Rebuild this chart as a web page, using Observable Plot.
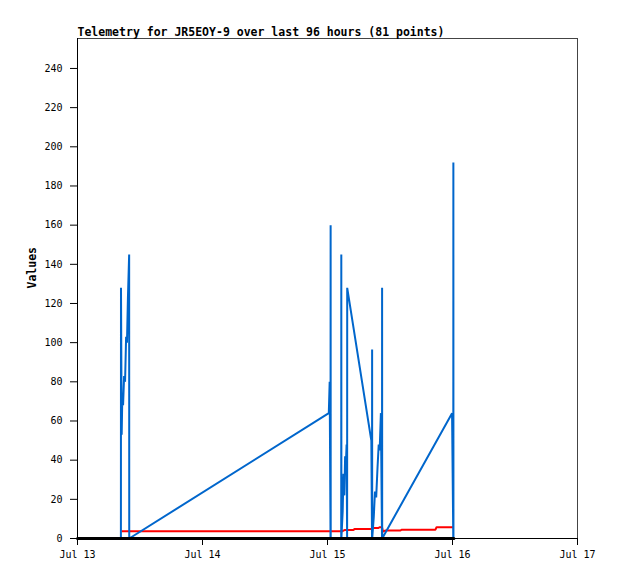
<!DOCTYPE html>
<html>
<head>
<meta charset="utf-8">
<script src="https://cdn.jsdelivr.net/npm/d3@7"></script>
<script src="https://cdn.jsdelivr.net/npm/@observablehq/plot@0.6"></script>
<style>
  html, body { margin: 0; padding: 0; background: #fff; }
</style>
</head>
<body>
<div id="chart"></div>
<script>
const titleText = "Telemetry for JR5EOY-9 over last 96 hours (81 points)";
const yLabel = "Values";
const xDomain = ["2024-07-13T00:00Z", "2024-07-17T00:00Z"];
const yTicks = [0, 20, 40, 60, 80, 100, 120, 140, 160, 180, 200, 220, 240];
const yMax = 255.3;

const blueTimes = [
  "2024-07-13T08:20Z", "2024-07-13T08:21Z", "2024-07-13T08:29Z", "2024-07-13T08:36Z",
  "2024-07-13T08:45Z", "2024-07-13T08:57Z", "2024-07-13T09:08Z", "2024-07-13T09:20Z",
  "2024-07-13T09:30Z", "2024-07-13T09:41Z", "2024-07-13T09:55Z", "2024-07-13T09:56Z",
  "2024-07-15T00:15Z", "2024-07-15T00:25Z", "2024-07-15T00:35Z", "2024-07-15T00:36Z",
  "2024-07-15T00:37Z", "2024-07-15T02:38Z", "2024-07-15T02:39Z", "2024-07-15T02:40Z",
  "2024-07-15T02:55Z", "2024-07-15T03:04Z", "2024-07-15T03:14Z", "2024-07-15T03:23Z",
  "2024-07-15T03:32Z", "2024-07-15T03:40Z", "2024-07-15T03:46Z", "2024-07-15T03:47Z",
  "2024-07-15T08:25Z", "2024-07-15T08:33Z", "2024-07-15T08:34Z", "2024-07-15T08:35Z",
  "2024-07-15T08:53Z", "2024-07-15T09:07Z", "2024-07-15T09:21Z", "2024-07-15T09:36Z",
  "2024-07-15T09:50Z", "2024-07-15T10:01Z", "2024-07-15T10:15Z", "2024-07-15T10:28Z",
  "2024-07-15T10:29Z", "2024-07-15T10:30Z", "2024-07-15T23:55Z", "2024-07-16T00:09Z",
  "2024-07-16T00:10Z", "2024-07-16T00:11Z"
];
const blueValues = [
  0, 128, 53, 72,
  68, 83, 80, 103,
  100, 123, 145, 0,
  64, 80, 0, 160,
  0, 0, 145, 0,
  14, 33, 22, 42,
  38, 48, 0, 128,
  50, 0, 96.5, 0,
  11, 24, 21, 36,
  48, 45, 64, 0,
  128, 0, 64, 0,
  192, 0
];

const redTimes = [
  "2024-07-13T08:27Z", "2024-07-15T02:47Z", "2024-07-15T03:16Z", "2024-07-15T04:59Z",
  "2024-07-15T05:11Z", "2024-07-15T08:27Z", "2024-07-15T08:38Z", "2024-07-15T09:47Z",
  "2024-07-15T09:59Z", "2024-07-15T10:28Z", "2024-07-15T10:40Z", "2024-07-15T11:08Z",
  "2024-07-15T14:01Z", "2024-07-15T14:13Z", "2024-07-15T20:44Z", "2024-07-15T20:56Z",
  "2024-07-16T00:11Z"
];
const redValues = [
  3.7, 3.7, 4.3, 4.4,
  4.8, 4.8, 5.3, 5.3,
  5.8, 5.8, 3.5, 4.1,
  4.1, 4.5, 4.5, 5.8,
  5.8
];

const blackTimes = ["2024-07-13T00:00Z", "2024-07-16T00:16Z"];
const blackValues = [0, 0];

const toRows = (ts, vs) => ts.map((t, i) => ({t: new Date(t), v: vs[i]}));
const blue = toRows(blueTimes, blueValues);
const red = toRows(redTimes, redValues);
const black = toRows(blackTimes, blackValues);

const chart = Plot.plot({
  width: 618,
  height: 579,
  marginLeft: 77,
  marginRight: 41,
  marginTop: 38,
  marginBottom: 41,
  style: {fontFamily: "'DejaVu Sans Mono', monospace", fontSize: "10px", background: "#fff", color: "#000"},
  x: {type: "utc", domain: xDomain.map(d => new Date(d)), label: null},
  y: {domain: [0, yMax], label: null},
  marks: [
    Plot.frame({stroke: "#444", strokeWidth: 1}),
    Plot.axisY({ticks: yTicks, tickSize: 7, tickPadding: 8, label: null}),
    Plot.axisX({ticks: d3.utcDay.every(1), tickFormat: d3.utcFormat("%b %d"), tickSize: 7, tickPadding: 5, label: null}),
    Plot.ruleX([new Date(xDomain[0])], {stroke: "#000"}),
    Plot.ruleY([0], {stroke: "#000"}),
    Plot.line(red, {x: "t", y: "v", stroke: "#ff0000", strokeWidth: 2, curve: "linear", strokeLinejoin: "miter", strokeLinecap: "butt"}),
    Plot.line(blue, {x: "t", y: "v", stroke: "#0066cc", strokeWidth: 2, curve: "linear", strokeLinejoin: "bevel", strokeLinecap: "butt"}),
    Plot.line(black, {x: "t", y: "v", stroke: "#000", strokeWidth: 3}),
    Plot.text([titleText], {frameAnchor: "top-left", text: d => d, textAnchor: "start", lineAnchor: "bottom", dy: -3, fontWeight: "bold", fontSize: 11.5}),
    Plot.text([yLabel], {frameAnchor: "left", text: d => d, rotate: -90, dx: -45, fontWeight: "bold", fontSize: 11.5})
  ]
});
document.getElementById("chart").appendChild(chart);
</script>
</body>
</html>
